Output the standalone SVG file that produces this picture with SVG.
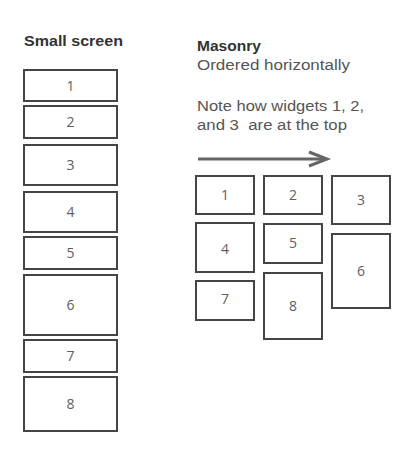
<svg xmlns="http://www.w3.org/2000/svg" width="403" height="460" viewBox="0 0 403 460">
<style>
.box{fill:#fff;stroke:#454545;stroke-width:2}
.num{font-family:"Open Sans","Liberation Sans",sans-serif;font-size:14px;fill:#5e5e5e;text-anchor:middle}
.h{font-family:"Liberation Sans",Arial,sans-serif;font-size:15px;font-weight:bold;fill:#333}
.t{font-family:"Liberation Sans",Arial,sans-serif;font-size:15.5px;fill:#555}
</style>
<rect width="403" height="460" fill="#fff"/>
<text class="h" x="24" y="46" textLength="99" lengthAdjust="spacingAndGlyphs">Small screen</text>
<text class="h" x="197" y="51" textLength="64" lengthAdjust="spacingAndGlyphs">Masonry</text>
<text class="t" x="197" y="70" textLength="153" lengthAdjust="spacingAndGlyphs">Ordered horizontally</text>
<text class="t" x="197" y="111" textLength="167" lengthAdjust="spacingAndGlyphs">Note how widgets 1, 2,</text>
<text class="t" x="197" y="130" textLength="150" lengthAdjust="spacingAndGlyphs" xml:space="preserve">and 3  are at the top</text>
<g id="connectors">
<line x1="198" y1="159" x2="326" y2="159" stroke="#666" stroke-width="3"/>
<polyline points="309,152 327,159 309,166" fill="none" stroke="#666" stroke-width="3"/>
</g>
<g id="s1"><rect class="box" x="24" y="70" width="93" height="31"/><text class="num" x="70.5" y="90.5">1</text></g>
<g id="s2"><rect class="box" x="24" y="106" width="93" height="32"/><text class="num" x="70.5" y="127">2</text></g>
<g id="s3"><rect class="box" x="24" y="145" width="93" height="40"/><text class="num" x="70.5" y="170">3</text></g>
<g id="s4"><rect class="box" x="24" y="192" width="93" height="40"/><text class="num" x="70.5" y="217">4</text></g>
<g id="s5"><rect class="box" x="24" y="237" width="93" height="32"/><text class="num" x="70.5" y="258">5</text></g>
<g id="s6"><rect class="box" x="24" y="275" width="93" height="60"/><text class="num" x="70.5" y="310">6</text></g>
<g id="s7"><rect class="box" x="24" y="340" width="93" height="32"/><text class="num" x="70.5" y="361">7</text></g>
<g id="s8"><rect class="box" x="24" y="377" width="93" height="54"/><text class="num" x="70.5" y="409">8</text></g>
<g id="m1"><rect class="box" x="196" y="176" width="58" height="38"/><text class="num" x="225" y="200">1</text></g>
<g id="m2"><rect class="box" x="264" y="176" width="58" height="38"/><text class="num" x="293" y="200">2</text></g>
<g id="m3"><rect class="box" x="332" y="176" width="58" height="48"/><text class="num" x="361" y="205">3</text></g>
<g id="m4"><rect class="box" x="196" y="223" width="58" height="49"/><text class="num" x="225" y="254">4</text></g>
<g id="m5"><rect class="box" x="264" y="224" width="58" height="39"/><text class="num" x="293" y="248">5</text></g>
<g id="m6"><rect class="box" x="332" y="234" width="58" height="74"/><text class="num" x="361" y="276">6</text></g>
<g id="m7"><rect class="box" x="196" y="281" width="58" height="39"/><text class="num" x="225" y="304">7</text></g>
<g id="m8"><rect class="box" x="264" y="273" width="58" height="66"/><text class="num" x="293" y="311">8</text></g>
</svg>
